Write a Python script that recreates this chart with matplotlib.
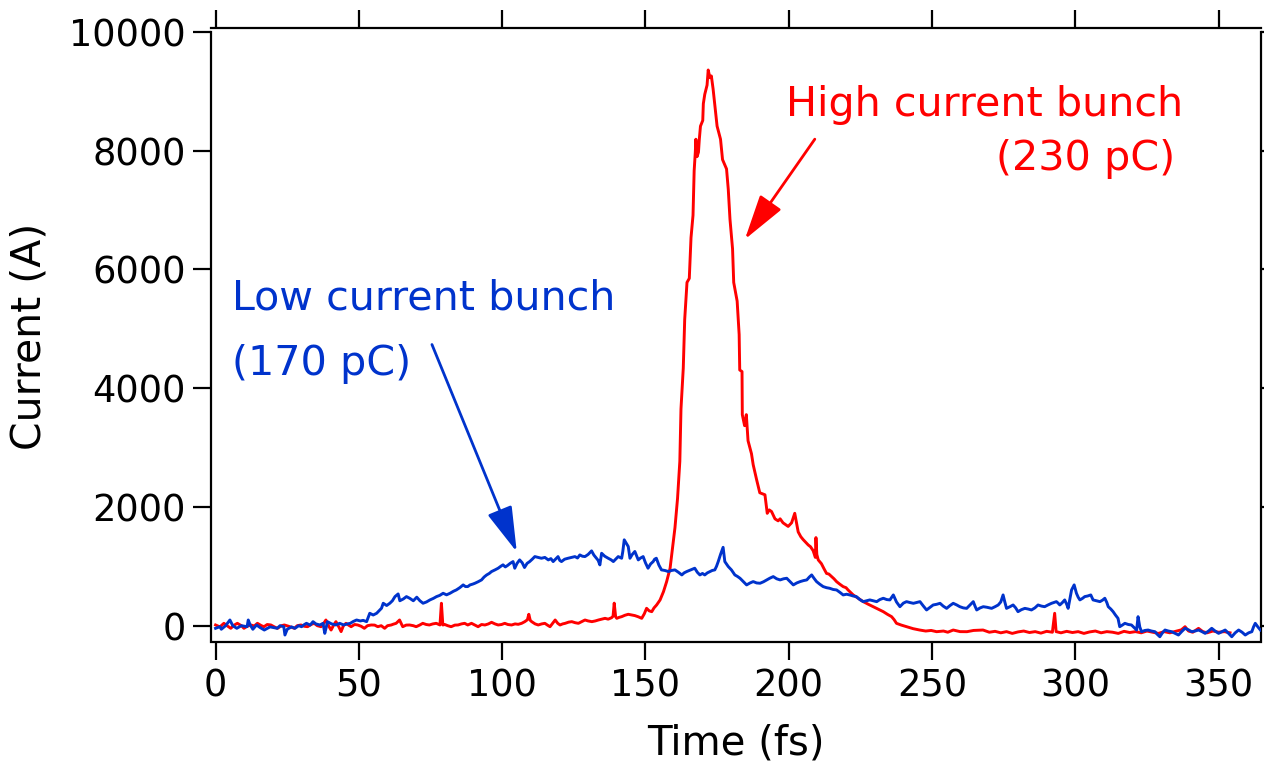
import matplotlib
matplotlib.use("Agg")
import matplotlib.pyplot as plt

plt.rcParams['font.family'] = ['DejaVu Sans']

# ---------------- data ----------------
red_t = [0, 1.5, 2.9, 4, 5.3, 6.5, 7.6, 9, 9.9, 11, 12.3, 13.5, 14.6, 16, 16.9, 18, 19.3, 20.5, 21.6, 23, 24,
         25.5, 27.5, 28.5, 29.8, 31, 32.1, 33.3, 34.4, 35.5, 36.8, 37.6, 38.5, 39.4, 40.3, 41.2, 42, 43, 43.8,
         44.6, 45.5, 46.4, 47.3, 48.5, 49.6, 50.8, 51.9, 53, 54.3, 55.5, 56.6, 57.8, 59, 60, 61.3, 62, 63, 64.2,
         65.3, 66.5, 67.7, 69, 70, 71.2, 72.3, 73.5, 74.6, 75.8, 77, 78.3, 78.8, 79.3, 80, 81, 82.2, 83.5, 84.6,
         85.8, 86.9, 88, 89.3, 90.5, 91.6, 92.8, 94, 95.2, 96.3, 97.5, 98.6, 99.8, 100.9, 102, 103.3, 104.5,
         105.6, 106.8, 107.9, 108.8, 109.3, 109.8, 110.3, 111.5, 112.6, 113.8, 114.9, 115.8, 116.7, 117.6,
         118.5, 119.4, 120.2, 121.1, 122, 123.2, 124.3, 125.5, 126.6, 127.8, 128.9, 130, 131.3, 132.5, 133.6,
         134.8, 135.9, 137, 138.2, 138.7, 139.1, 139.6, 140, 140.8, 141.7, 142.8, 144, 145.2, 146.3, 147.5,
         148.7, 149.6, 150.4, 151.3, 152.2, 153, 153.9, 155.1, 156.3, 157.4, 158.6, 159.7, 160.3, 161.2, 162,
         162.4, 163.2, 163.7, 164.5, 165.3, 165.9, 166.6, 167, 167.4, 167.6, 168, 168.5, 168.8, 169.2, 170,
         170.2, 170.7, 171.5, 171.9, 172.5, 173, 173.6, 174.6, 175, 176.2, 176.9, 178.3, 178.9, 179.5, 180.4,
         180.8, 182, 182.7, 182.9, 183.7, 183.8, 184.6, 185.2, 185.8, 187, 187.6, 188.8, 189.9, 191.7, 192.5,
         193.2, 194, 195.2, 196.3, 197, 198, 199, 199.8, 201, 202.1, 203.3, 204.2, 205, 206, 206.8, 207.6,
         208.5, 209.3, 209.5, 209.8, 210.3, 211.4, 212.3, 213.2, 214, 214.9, 215.8, 216.7, 217.8, 219, 220,
         220.7, 221.6, 222.5, 224, 226, 227.8, 229.5, 231.2, 233, 234.5, 235.9, 236.8, 237.6, 239.3, 241.1,
         243.4, 245.7, 247.8, 249.7, 251.6, 254, 255.5, 257.4, 259.8, 262.2, 264.5, 267.8, 270, 272, 274, 276,
         278, 280, 282, 284, 286, 288, 290, 292, 292.8, 293.3, 295, 297, 299, 301, 303, 305, 307, 309, 311,
         313, 315, 317, 319, 321, 323, 325, 327, 329, 331, 333, 335, 337, 338.3, 339.5, 341, 343, 344.5, 346,
         348, 350, 352, 354]
red_i = [12, -20, 40, 0, -44, 10, 40, 0, -44, -10, 12, -5, 40, 0, -17, 20, 12, -20, -44, 0, 12,
         -10, -44, 0, 12, -10, -17, 20, 40, 0, -17, 30, 96, 0, -73, 10, 68, -20, -100,
         0, 40, 10, -17, 20, 12, -10, -44, 0, 12, 10, -17, 0, -44, 0, 12, 25, 40, 96,
         -17, 10, 12, 0, -17, 10, 40, 20, 12, 30, 40, 12, 378, 12, 20, 0, -17, 10, 12,
         30, 40, 12, 40, 10, -17, 20, 12, 30, 57, 30, 12, 20, 40, 20, 12, 30,
         23, 40, 68, 100, 192, 90, 68, 30, 12, 30, 40, 10, -17, 40,
         96, 40, 12, 30, 40, 60, 68, 50, 40, 70, 96, 80, 68, 80, 96,
         110, 124, 110, 135, 160, 380, 150, 124, 140, 152, 175, 192, 180, 170, 150,
         124, 200, 293, 250, 236, 300, 349, 433, 574, 743, 968, 1418, 1650, 2143, 2770,
         3650, 4338, 5158, 5782, 5850, 6535, 6912, 7663, 7975, 8194, 7900, 7975, 8194, 8414, 8510,
         8792, 8950, 9105, 9360, 9230, 9260, 9044, 8603, 8414, 8194, 7851, 7693, 7351, 6846, 6346,
         5782, 5467, 4904, 4307, 4280, 3555, 3369, 3555, 3116, 2897, 2711, 2458, 2239, 2205, 1893,
         1950, 1923, 1800, 1766, 1800, 1733, 1700, 1672, 1733, 1893, 1580, 1500, 1452, 1400, 1360, 1330,
         1265, 1150, 1484, 1200, 1108, 1045, 960, 880, 870, 830, 790, 742, 700, 658, 640,
         602, 560, 518, 470, 405, 360, 320, 280, 236, 190, 152, 100, 40, 10, -17,
         -50, -73, -90, -80, -101, -90, -110, -73, -100, -101, -80, -73, -110, -95, -120, -100,
         -130, -105, -90, -115, -100, -125, -95, -110, 209, -100, -120, -95, -115, -100, -130, -105, -90, -120, -100,
         -110, -130, -95, -115, -100, -120, -90, -110, -130, -100, -120, -95, -70, -17, -90, -110, -45, -100, -120,
         -90, -110, -100, -120]

blue_t = [0, 1.5, 2, 3.5, 5, 6, 7.4, 9, 11, 11.4, 12, 13, 14.3, 15.5, 17, 19, 21.5, 22.5, 23.8, 24.2, 25,
          26.5, 27.7, 29, 30, 31, 31.7, 33, 34, 35, 36.4, 37.5, 38.1, 38.6, 39, 40.5, 42, 43.3, 44.7, 46, 47,
          48, 49.2, 50.5, 51.5, 52.7, 53.8, 55, 56.2, 57, 57.9, 58.5, 59.7, 60.8, 61.7, 62.6, 63.7, 64.3, 65.5,
          66.6, 67.8, 69, 70.2, 71.3, 72.4, 73.6, 74.8, 76, 77.1, 78.2, 79.4, 80.6, 81.8, 83, 84, 85.2, 86.4,
          87.2, 88, 88.8, 89.7, 90.5, 91.6, 92.8, 93.7, 94.6, 95.5, 96.3, 97.5, 98.6, 99.5, 100.3, 101.1,
          101.9, 102.8, 103.8, 104.4, 105.2, 106.1, 107, 107.8, 108.7, 109.6, 110.5, 111.4, 112.5, 113.7,
          114.9, 116.1, 117, 117.8, 118.6, 119.5, 120.1, 120.7, 121.8, 123, 124.2, 125.4, 126.3, 127.1, 128,
          128.9, 130, 131.2, 132, 132.9, 133.5, 134.1, 134.7, 135.8, 137, 138, 138.8, 139.6, 140.5, 141.1,
          141.7, 142.1, 142.6, 143.3, 144, 144.6, 145.4, 146.3, 146.9, 147.5, 148.3, 149.2, 150, 150.9, 151.8,
          152.7, 153.2, 153.8, 154.7, 155.6, 156.8, 158, 159.1, 160.3, 161.5, 162.7, 163.5, 164.4, 165.8,
          167.2, 168.1, 169, 169.9, 170.7, 171.6, 172.5, 173.3, 174.2, 174.8, 175.4, 176.2, 177.1, 177.7,
          178.9, 180, 181.2, 182.1, 183, 184.2, 185.3, 186.5, 187.6, 188.8, 190, 191.2, 192.3, 193.4, 194.6,
          195.8, 197, 198.2, 199.3, 200.5, 201.6, 202.8, 204, 205.2, 206.3, 207.2, 208, 208.8, 209.7, 210.8,
          212, 213.2, 214.3, 215.5, 216.7, 217.9, 219, 220.2, 221.3, 222.5, 223.6, 224.8, 226, 227.2, 228.3,
          229.5, 230.7, 231.8, 233, 234.2, 235.3, 236.5, 237.6, 238.8, 240, 241.1, 242.3, 243.5, 244.6, 245.8,
          247, 248.1, 249.3, 250.4, 251.6, 252.8, 253.9, 255.1, 256.3, 257.4, 258.6, 259.7, 260.9, 262.1,
          263.3, 264.4, 265, 265.6, 266.8, 267.9, 269.2, 270.8, 272, 273.1, 274, 274.8, 275.4, 276, 277.2,
          278.3, 279.2, 280, 281.2, 282.4, 283.6, 284.7, 285.9, 287, 288.2, 289.3, 290.5, 291.7, 292.5, 293.4,
          294, 294.6, 295.5, 296.3, 297, 297.5, 298.1, 298.7, 299.6, 300.4, 301, 301.6, 302.5, 303.3, 304.3,
          305.4, 306.2, 307.4, 308.6, 309.5, 310.3, 311, 311.5, 312.4, 313.2, 314, 314.9, 315.5, 316.4, 317.3,
          318.5, 319.6, 320.5, 321.4, 321.9, 322.5, 323.1, 324.3, 325.4, 326.6, 327.8, 328.7, 329.5, 330.4,
          331.3, 332.5, 333.6, 334.8, 336, 337.1, 338.3, 339.5, 340.6, 341.8, 343, 344.2, 345.3, 346.5, 347.6,
          348.8, 350, 351.2, 352.3, 353.5, 354.6, 355.8, 357, 358.2, 359.3, 360.5, 361.6, 362.2, 362.8, 363.7,
          364.6]
blue_i = [-44, -17, -60, 0, 96, 0, -44, 0, -17, 96, 20, -60, 12, -30, -73, -20, -44, 0, -17, -157, -60,
          -20, -44, 0, -17, 20, 40, 10, 68, 30, 12, 40, -129, -30, 68, 30, 12, 40, 12, 30, 40,
          70, 96, 80, 90, 68, 209, 180, 209, 250, 294, 378, 340, 378, 420, 490, 535, 420, 450,
          490, 460, 420, 480, 420, 378, 400, 434, 460, 490, 510, 546, 520, 546, 580, 602, 640, 687,
          659, 659, 687, 700, 715, 740, 771, 820, 855, 880, 912, 940, 968, 1000, 1025, 990,
          1015, 1050, 1080, 968, 1050, 1108, 1060, 980, 1050, 1080, 1120, 1164, 1150, 1136,
          1150, 1108, 1130, 1080, 1120, 1164, 1100, 1080, 1120, 1136, 1150, 1164, 1140, 1192, 1170,
          1164, 1200, 1260, 1190, 1136, 1100, 1024, 1220, 1170, 1136, 1110, 1080, 1120, 1164, 1150,
          1136, 1250, 1446, 1390, 1333, 1136, 1200, 1250, 1180, 1108, 1140, 1164, 1060, 968, 1040,
          1080, 1120, 1136, 1020, 940, 930, 912, 930, 940, 900, 855, 890, 912, 940,
          968, 900, 855, 880, 855, 890, 912, 930, 940, 1000, 1080, 1200, 1320, 1080,
          996, 940, 855, 830, 799, 740, 687, 720, 743, 720, 715, 740, 771, 800, 827,
          790, 771, 790, 799, 740, 687, 720, 743, 760, 771, 820, 855, 800, 743, 700,
          659, 640, 630, 610, 602, 560, 518, 530, 518, 500, 490, 440, 405, 420, 434,
          420, 405, 440, 462, 440, 434, 518, 400, 320, 380, 405, 390, 377, 390, 405,
          330, 265, 310, 349, 360, 377, 330, 292, 340, 377, 350, 320, 300, 292,
          350, 405, 330, 265, 300, 320, 310, 292, 320, 349, 400, 518, 400, 292, 320,
          349, 300, 236, 270, 292, 280, 265, 300, 349, 330, 320, 350, 377, 390, 405,
          380, 349, 390, 434, 360, 292, 450, 602, 687, 546, 480, 434, 460, 490, 500,
          518, 434, 420, 405, 430, 462, 390, 320, 280, 236, 180, 124, -17, 10, 40,
          20, 12, -30, -73, 152, -20, -101, -80, -73, -90, -101, -150, -186, -120,
          -73, -90, -101, -130, -157, -100, -44, -70, -101, -90, -73, -100, -129, -90, -44,
          -90, -129, -100, -73, -130, -186, -120, -73, -110, -157, -120, -101, -20, 40, -20,
          -73]

x_ticks = [0, 50, 100, 150, 200, 250, 300, 350]
y_ticks = [0, 2000, 4000, 6000, 8000, 10000]

RED = '#ff0000'
BLUE = '#0033cc'

# ---------------- figure ----------------
W, H = 1264, 767
fig = plt.figure(figsize=(W / 100, H / 100), dpi=100)
ax = fig.add_axes([211 / W, (H - 640) / H, 1050 / W, 608 / H])

ax.plot(blue_t, blue_i, color=BLUE, lw=2.1, zorder=3)
ax.plot(red_t, red_i, color=RED, lw=2.1, zorder=2)

ax.set_xlim(-1.6, 364.8)
ax.set_ylim(-241, 10000)
ax.set_xticks(x_ticks)
ax.set_yticks(y_ticks)
ax.set_xticklabels([str(v) for v in x_ticks])
ax.set_yticklabels([str(v) for v in y_ticks])

for s in ax.spines.values():
    s.set_linewidth(1.6)
ax.spines['top'].set_position(('outward', 3))
ax.spines['bottom'].set_position(('outward', 1.5))

ax.tick_params(axis='both', which='major', direction='out', length=13, width=1.6,
               labelsize=26.5, top=True, right=True, labeltop=False, labelright=False)
ax.tick_params(axis='x', pad=5)
ax.tick_params(axis='y', pad=5)

ax.set_xlabel('Time (fs)', fontsize=29, labelpad=14)
ax.set_ylabel('Current (A)', fontsize=29.5, labelpad=14)

# annotations
ax.text(268.4, 8770, 'High current bunch', color=RED, fontsize=29.7,
        ha='center', va='center')
ax.text(334.8, 7860, '(230 pC)', color=RED, fontsize=29.7, ha='right', va='center')
ax.text(5.7, 5510, 'Low current bunch', color=BLUE, fontsize=29.7, ha='left', va='center')
ax.text(5.7, 4410, '(170 pC)', color=BLUE, fontsize=29.7, ha='left', va='center')

arrow_style = '-|>,head_length=0.7,head_width=0.2'
ax.annotate('', xy=(184.7, 6508), xytext=(209.1, 8195),
            arrowprops=dict(arrowstyle=arrow_style, mutation_scale=40, lw=2,
                            color=RED, shrinkA=0, shrinkB=0))
ax.annotate('', xy=(105.1, 1243), xytext=(75.5, 4736),
            arrowprops=dict(arrowstyle=arrow_style, mutation_scale=40, lw=2,
                            color=BLUE, shrinkA=0, shrinkB=0))

fig.savefig('out.png', dpi=100)
